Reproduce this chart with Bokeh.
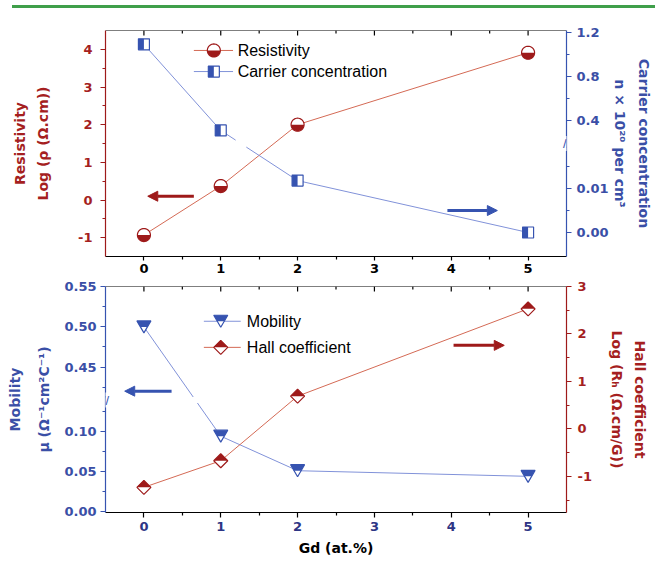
import numpy as np
from bokeh.plotting import figure
from bokeh.models import Range1d, LinearAxis, FixedTicker, Arrow, NormalHead, Label, Div, Spacer, Span
from bokeh.layouts import column, row
from bokeh.core.properties import value
from bokeh.embed import file_html
from bokeh.resources import INLINE

# ---------------- data ----------------
gd = [0, 1, 2, 5]
log_resistivity = [-0.93, 0.37, 2.0, 3.91]
carrier_conc = [1.09, 0.308, 0.0118, 0.0]        # n x 10^20 per cm^3
mobility = [0.50, 0.094, 0.051, 0.044]
log_hall = [-1.23, -0.67, 0.69, 2.53]

x_ticks = [0, 1, 2, 3, 4, 5]
x_minor = [0.5, 1.5, 2.5, 3.5, 4.5]
res_ticks = [-1, 0, 1, 2, 3, 4]
res_tick_labels = ["-1", "0", "1", "2", "3", "4"]
res_minor = [-0.5, 0.5, 1.5, 2.5, 3.5]
carrier_ticks = [0.0, 0.01, 0.4, 0.8, 1.2]
carrier_tick_labels = ["0.00", "0.01", "0.4", "0.8", "1.2"]
carrier_minor = [0.005, 0.015, 0.6, 1.0]
mob_ticks = [0.0, 0.05, 0.10, 0.45, 0.50, 0.55]
mob_tick_labels = ["0.00", "0.05", "0.10", "0.45", "0.50", "0.55"]
mob_minor = [0.025, 0.075, 0.125, 0.425, 0.475, 0.525]
hall_ticks = [-1, 0, 1, 2, 3]
hall_tick_labels = ["-1", "0", "1", "2", "3"]
hall_minor = [-1.5, -0.5, 0.5, 1.5, 2.5]

# ---------------- style ----------------
RED = "#9e1a1a"
RED_TXT = "#a51f1f"
RED_LINE = "#d46a55"
BLUE = "#3653b0"
BLUE_TXT = "#3a4fa6"
BLUE_LINE = "#8192d9"
NAVY = "#2d3585"
GREEN = "#3f9f4a"
TICK_FONT = "DejaVu Sans"
LEG_FONT = "Liberation Sans"

FW, FH = 461, 226
XR = (-0.5, 5.5)
TOP_YR = (-1.5, 4.5)
N_YR = (-0.545, 4.59)        # virtual range for broken carrier axis
MOB_YR = (-0.02, 5.605)      # virtual range for broken mobility axis
HALL_YR = (-1.76, 3.0)
CARRIER_BREAK = 2.02
MOB_BREAK = 2.78


def carrier_v(val):
    return val / 0.01 if val <= 0.05 else 2.55 + (val - 0.4) * 2.5


def mob_v(val):
    return val / 0.05 if val <= 0.2 else 3.6 + (val - 0.45) / 0.05


def span(r):
    return r[1] - r[0]


SX = span(XR) / FW

# marker templates in pixels (y up)
_t = np.linspace(0, 2 * np.pi, 40, endpoint=False)
CIRC = list(zip(6.5 * np.cos(_t), 6.5 * np.sin(_t)))
_tb = np.linspace(np.pi, 2 * np.pi, 21)
CIRC_BOT = list(zip(6.5 * np.cos(_tb), 6.5 * np.sin(_tb)))
SQ = [(-5.5, -5.5), (5.5, -5.5), (5.5, 5.5), (-5.5, 5.5)]
SQ_LEFT = [(-5.5, -5.5), (0, -5.5), (0, 5.5), (-5.5, 5.5)]
TRI = [(-7, 6), (7, 6), (0, -6)]
TRI_TOP = [(-7, 6), (7, 6), (3.5, 0), (-3.5, 0)]
DIA = [(0, 7), (7, 0), (0, -7), (-7, 0)]
DIA_TOP = [(0, 7), (7, 0), (-7, 0)]


def place(xs, ys, verts, sy):
    px = [[float(x + dx * SX) for dx, _ in verts] for x in xs]
    py = [[float(y + dy * sy) for _, dy in verts] for y in ys]
    return px, py


def draw_markers(p, xs, ys, full, half, color, sy, rng="default"):
    fx, fy = place(xs, ys, full, sy)
    hx, hy = place(xs, ys, half, sy)
    p.patches(fx, fy, fill_color="white", line_color=None, y_range_name=rng)
    p.patches(hx, hy, fill_color=color, line_color=None, y_range_name=rng)
    p.patches(fx, fy, fill_color=None, line_color=color, line_width=1.2, y_range_name=rng)


def split_line(xs, vs, vb, gap):
    sxs, sys_ = [[xs[0]]], [[vs[0]]]
    for i in range(1, len(xs)):
        x0, v0, x1, v1 = xs[i - 1], vs[i - 1], xs[i], vs[i]
        if (v0 - vb) * (v1 - vb) < 0:
            va = vb + gap if v0 > vb else vb - gap
            vc = vb - gap if v0 > vb else vb + gap
            xa = x0 + (va - v0) / (v1 - v0) * (x1 - x0)
            xc = x0 + (vc - v0) / (v1 - v0) * (x1 - x0)
            sxs[-1].append(xa); sys_[-1].append(va)
            sxs.append([xc, x1]); sys_.append([vc, v1])
        else:
            sxs[-1].append(x1); sys_[-1].append(v1)
    return sxs, sys_


def make_fig(yr, top, bottom):
    p = figure(frame_width=FW, frame_height=FH, x_range=Range1d(*XR), y_range=Range1d(*yr),
               x_axis_type=None, y_axis_type=None, toolbar_location=None, output_backend="svg",
               min_border_left=105, min_border_right=89, min_border_top=top,
               min_border_bottom=bottom)
    p.outline_line_color = None
    p.background_fill_color = "white"
    p.border_fill_color = "white"
    # top frame edge with inward ticks
    p.add_layout(Span(location=yr[1], dimension="width", line_color="black", line_width=1.2))
    sy = span(yr) / FH
    p.segment(x0=x_ticks, y0=[yr[1]] * len(x_ticks), x1=x_ticks,
              y1=[yr[1] - 5 * sy] * len(x_ticks), line_color="black", line_width=1.2)
    p.segment(x0=x_minor, y0=[yr[1]] * len(x_minor), x1=x_minor,
              y1=[yr[1] - 3 * sy] * len(x_minor), line_color="black", line_width=1.2)
    return p


def tick_axis(color, txt_color, ticks, minor, labels=None, rng="default", label="",
              label_color="black", standoff=6, label_standoff=6, tick_out=5):
    ax = LinearAxis(y_range_name=rng) if rng != "default" else LinearAxis()
    ax.ticker = FixedTicker(ticks=ticks, minor_ticks=minor)
    if labels is not None:
        ax.major_label_overrides = {t: l for t, l in zip(ticks, labels)}
    ax.axis_line_color = color
    ax.axis_line_width = 1.2
    ax.major_tick_line_color = color
    ax.minor_tick_line_color = color
    ax.major_tick_line_width = 1.2
    ax.minor_tick_line_width = 1.2
    ax.major_tick_in, ax.major_tick_out = 0, tick_out
    ax.minor_tick_in, ax.minor_tick_out = 0, 3
    ax.major_label_text_font = TICK_FONT
    ax.major_label_text_font_style = "bold"
    ax.major_label_text_font_size = "13px"
    ax.major_label_text_color = txt_color
    ax.major_label_standoff = standoff
    if label:
        ax.axis_label = label
        ax.axis_label_text_font = TICK_FONT
        ax.axis_label_text_font_style = "bold"
        ax.axis_label_text_font_size = "14px"
        ax.axis_label_text_color = label_color
        ax.axis_label_standoff = label_standoff
    return ax


def title_axis(label, color, standoff):
    ax = LinearAxis(ticker=FixedTicker(ticks=[]))
    ax.axis_line_color = None
    ax.major_tick_in = ax.major_tick_out = 0
    ax.minor_tick_in = ax.minor_tick_out = 0
    ax.major_label_standoff = 0
    ax.axis_label = label
    ax.axis_label_text_font = TICK_FONT
    ax.axis_label_text_font_style = "bold"
    ax.axis_label_text_font_size = "14px"
    ax.axis_label_text_color = color
    ax.axis_label_standoff = standoff
    return ax


# ================= top panel =================
p1 = make_fig(TOP_YR, 22, 22)
p1.extra_y_ranges = {"n": Range1d(*N_YR)}
sy_top = span(TOP_YR) / FH
sy_n = span(N_YR) / FH

p1.add_layout(tick_axis(RED, RED_TXT, res_ticks, res_minor, res_tick_labels,
                        label="Log (ρ (Ω.cm))", label_color=RED_TXT, standoff=8,
                        label_standoff=24), "left")
p1.add_layout(title_axis("Resistivity", RED_TXT, 5), "left")
cv_ticks = [carrier_v(v) for v in carrier_ticks]
p1.add_layout(tick_axis(BLUE, BLUE_TXT, cv_ticks, [carrier_v(v) for v in carrier_minor],
                        carrier_tick_labels, rng="n", label="n × 10²⁰ per cm³",
                        label_color=BLUE_TXT, standoff=5, label_standoff=0), "right")
p1.add_layout(title_axis("Carrier concentration", BLUE_TXT, 5), "right")
p1.add_layout(tick_axis("black", "black", x_ticks, x_minor, standoff=3, tick_out=4), "below")

# resistivity series
p1.line(gd, log_resistivity, line_color=RED_LINE, line_width=1)
# carrier series (broken axis)
cv = [carrier_v(v) for v in carrier_conc]
segx, segy = split_line(gd, cv, CARRIER_BREAK, 3.5 * sy_n)
p1.multi_line(segx, segy, line_color=BLUE_LINE, line_width=1, y_range_name="n")
draw_markers(p1, gd, log_resistivity, CIRC, CIRC_BOT, RED, sy_top)
draw_markers(p1, gd, cv, SQ, SQ_LEFT, BLUE, sy_n, rng="n")

# legend (top)
LEG1_X = (0.65, 0.91, 1.16, 1.22)
LEG1_Y = (3.97, 3.41)
p1.line([LEG1_X[0], LEG1_X[2]], [LEG1_Y[0]] * 2, line_color=RED_LINE, line_width=1)
p1.line([LEG1_X[0], LEG1_X[2]], [LEG1_Y[1]] * 2, line_color=BLUE_LINE, line_width=1)
draw_markers(p1, [LEG1_X[1]], [LEG1_Y[0]], CIRC, CIRC_BOT, RED, sy_top)
draw_markers(p1, [LEG1_X[1]], [LEG1_Y[1]], SQ, SQ_LEFT, BLUE, sy_top)
p1.text([LEG1_X[3]] * 2, list(LEG1_Y), text=["Resistivity", "Carrier concentration"],
        text_font=value(LEG_FONT), text_font_size="16px", text_baseline="middle",
        text_align="left", text_color="black")

# arrows
p1.add_layout(Arrow(x_start=0.65, y_start=0.1, x_end=0.05, y_end=0.1, line_color=RED,
                    line_width=3, end=NormalHead(size=10, fill_color=RED, line_color=RED)))
p1.add_layout(Arrow(x_start=3.95, y_start=-0.28, x_end=4.6, y_end=-0.28, line_color=BLUE,
                    line_width=3, end=NormalHead(size=10, fill_color=BLUE, line_color=BLUE)))
# axis break mark
p1.add_layout(Label(x=5.5, y=CARRIER_BREAK, y_range_name="n", text="//", text_align="center",
                    text_baseline="middle", text_font_size="13px", text_color=BLUE,
                    background_fill_color="white"))

# ================= bottom panel =================
p2 = make_fig(MOB_YR, 8, 51)
p2.extra_y_ranges = {"hall": Range1d(*HALL_YR)}
sy_mob = span(MOB_YR) / FH
sy_hall = span(HALL_YR) / FH

mv_ticks = [mob_v(v) for v in mob_ticks]
p2.add_layout(tick_axis(BLUE, BLUE_TXT, mv_ticks, [mob_v(v) for v in mob_minor], mob_tick_labels,
                        label="μ (Ω⁻¹cm²C⁻¹)", label_color=BLUE_TXT, standoff=4,
                        label_standoff=9), "left")
p2.add_layout(title_axis("Mobility", BLUE_TXT, 11), "left")
p2.add_layout(tick_axis(RED, RED_TXT, hall_ticks, hall_minor, hall_tick_labels, rng="hall",
                        label="Log (Rₕ (Ω.cm/G))", label_color=RED_TXT, standoff=6,
                        label_standoff=14), "right")
p2.add_layout(title_axis("Hall coefficient", RED_TXT, 4), "right")
p2.add_layout(tick_axis("black", NAVY, x_ticks, x_minor, standoff=4, label="Gd (at.%)",
                        label_color="black", label_standoff=6), "below")

mv = [mob_v(v) for v in mobility]
segx, segy = split_line(gd, mv, MOB_BREAK, 3.0 * sy_mob)
p2.multi_line(segx, segy, line_color=BLUE_LINE, line_width=1)
p2.line(gd, log_hall, line_color=RED_LINE, line_width=1, y_range_name="hall")
draw_markers(p2, gd, mv, TRI, TRI_TOP, BLUE, sy_mob)
draw_markers(p2, gd, log_hall, DIA, DIA_TOP, RED, sy_hall, rng="hall")

# legend (bottom)
LEG2_X = (0.78, 1.0, 1.26, 1.34)
LEG2_Y = (4.74, 4.09)
p2.line([LEG2_X[0], LEG2_X[2]], [LEG2_Y[0]] * 2, line_color=BLUE_LINE, line_width=1)
p2.line([LEG2_X[0], LEG2_X[2]], [LEG2_Y[1]] * 2, line_color=RED_LINE, line_width=1)
draw_markers(p2, [LEG2_X[1]], [LEG2_Y[0]], TRI, TRI_TOP, BLUE, sy_mob)
draw_markers(p2, [LEG2_X[1]], [LEG2_Y[1]], DIA, DIA_TOP, RED, sy_mob)
p2.text([LEG2_X[3]] * 2, list(LEG2_Y), text=["Mobility", "Hall coefficient"],
        text_font=value(LEG_FONT), text_font_size="16px", text_baseline="middle",
        text_align="left", text_color="black")

p2.add_layout(Arrow(x_start=0.36, y_start=3.0, x_end=-0.25, y_end=3.0, line_color=BLUE,
                    line_width=3, end=NormalHead(size=10, fill_color=BLUE, line_color=BLUE)))
p2.add_layout(Arrow(x_start=4.03, y_start=4.14, x_end=4.69, y_end=4.14, line_color=RED,
                    line_width=3, end=NormalHead(size=10, fill_color=RED, line_color=RED)))
p2.add_layout(Label(x=-0.5, y=MOB_BREAK, text="//", text_align="center",
                    text_baseline="middle", text_font_size="13px", text_color=BLUE,
                    background_fill_color="white"))

# ================= page =================
green = Div(width=643, height=3, margin=0, styles={"background-color": GREEN})
layout = column(Spacer(height=5, margin=0), row(Spacer(width=12, margin=0), green, margin=0),
                p1, p2, spacing=0, margin=0)

open("out.html", "w").write(file_html(layout, INLINE))
